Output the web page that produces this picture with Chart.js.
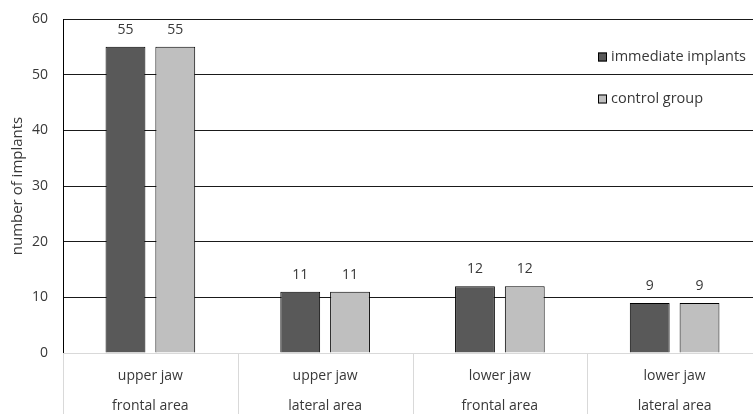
<!DOCTYPE html>
<html>
<head>
<meta charset="utf-8">
<script src="https://cdn.jsdelivr.net/npm/chart.js@4/dist/chart.umd.min.js"></script>
<style>
  html, body { margin: 0; padding: 0; background: #fff; overflow: hidden; }
  #wrap { position: relative; width: 765px; height: 423px; }
</style>
</head>
<body>
<div id="wrap"><canvas id="c"></canvas></div>
<script>
// Implant counts by jaw region
const categories = [
  ['upper jaw', 'frontal area'],
  ['upper jaw', 'lateral area'],
  ['lower jaw', 'frontal area'],
  ['lower jaw', 'lateral area']
];
const immediateImplants = [55, 11, 12, 9];
const controlGroup = [55, 11, 12, 9];
const seriesNames = ['immediate implants', 'control group'];
const yTicks = [0, 10, 20, 30, 40, 50, 60];

const FONT = 'Open Sans';
const TEXT = '#383838';

// Value labels above each bar
const barLabels = {
  id: 'barLabels',
  afterDatasetsDraw(chart) {
    const ctx = chart.ctx;
    ctx.save();
    ctx.font = '14px "' + FONT + '"';
    ctx.fillStyle = TEXT;
    ctx.textAlign = 'center';
    ctx.textBaseline = 'middle';
    chart.data.datasets.forEach((ds, di) => {
      chart.getDatasetMeta(di).data.forEach((bar, i) => {
        ctx.fillText(String(ds.data[i]), bar.x, bar.y - 17);
      });
    });
    ctx.restore();
  }
};

// Separators between category labels below the axis
const categoryDividers = {
  id: 'categoryDividers',
  afterDraw(chart) {
    const x = chart.scales.x;
    const ctx = chart.ctx;
    const n = chart.data.labels.length;
    const step = (x.right - x.left) / n;
    ctx.save();
    ctx.strokeStyle = '#d9d9d9';
    ctx.lineWidth = 1;
    for (let i = 0; i < n; i++) {
      const px = Math.round(x.getPixelForTick(i) - step / 2) + 0.5;
      ctx.beginPath();
      ctx.moveTo(px, x.top);
      ctx.lineTo(px, chart.height);
      ctx.stroke();
    }
    ctx.restore();
  }
};

// Legend placed inside the plot area, top right
const insideLegend = {
  id: 'insideLegend',
  afterDraw(chart) {
    const ctx = chart.ctx;
    const area = chart.chartArea;
    ctx.save();
    ctx.font = '14.5px "' + FONT + '"';
    ctx.textBaseline = 'middle';
    ctx.textAlign = 'left';
    chart.data.datasets.forEach((ds, i) => {
      const cy = area.top + 38 + i * 42;
      const mx = area.left + 535;
      ctx.fillStyle = ds.backgroundColor;
      ctx.fillRect(mx, cy - 4.5, 9, 9);
      ctx.strokeStyle = '#000';
      ctx.lineWidth = 1;
      ctx.strokeRect(mx + 0.5, cy - 4, 8, 8);
      ctx.fillStyle = TEXT;
      ctx.fillText(ds.label, mx + 13, cy);
    });
    ctx.restore();
  }
};

new Chart(document.getElementById('c'), {
  type: 'bar',
  data: {
    labels: categories,
    datasets: [
      {
        label: seriesNames[0],
        data: immediateImplants,
        backgroundColor: '#595959',
        borderColor: '#000',
        borderWidth: 1
      },
      {
        label: seriesNames[1],
        data: controlGroup,
        backgroundColor: '#bfbfbf',
        borderColor: '#000',
        borderWidth: 1
      }
    ]
  },
  options: {
    responsive: true,
    maintainAspectRatio: false,
    animation: false,
    datasets: {
      bar: { categoryPercentage: 0.57, barPercentage: 0.8 }
    },
    layout: { padding: { top: 19, right: 3, left: 0, bottom: 0 } },
    plugins: {
      legend: { display: false },
      tooltip: { enabled: false }
    },
    scales: {
      x: {
        grid: { display: false },
        border: { color: '#d9d9d9' },
        ticks: {
          color: TEXT,
          font: { family: FONT, size: 14, lineHeight: 2.15 },
          padding: 0,
          maxRotation: 0,
          autoSkip: false
        },
        afterFit(s) { s.height = 70; }
      },
      y: {
        min: 0,
        max: 60,
        afterBuildTicks(s) { s.ticks = yTicks.map(v => ({ value: v })); },
        grid: {
          color: ctx => (ctx.tick && ctx.tick.value === 0 ? 'rgba(0,0,0,0)' : '#1a1a1a'),
          drawTicks: false
        },
        border: { color: '#000' },
        ticks: {
          color: TEXT,
          font: { family: FONT, size: 14 },
          padding: 15
        },
        title: {
          display: true,
          text: 'number of implants',
          color: TEXT,
          font: { family: FONT, size: 15 },
          padding: { top: 9, bottom: 0 }
        },
        afterFit(s) {
          s.width = 63;
          s.paddingTop = 0;
          s.paddingBottom = 0;
        }
      }
    }
  },
  plugins: [barLabels, categoryDividers, insideLegend]
});
</script>
</body>
</html>
